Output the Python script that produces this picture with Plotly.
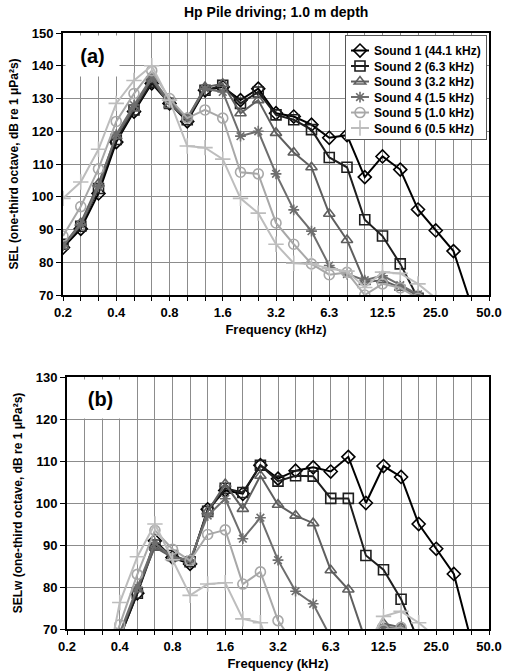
import plotly.graph_objects as go

# ---------------- data ----------------
band_labels = ["0.2", "0.25", "0.315", "0.4", "0.5", "0.63", "0.8", "1.0", "1.25", "1.6",
               "2.0", "2.5", "3.15", "4.0", "5.0", "6.3", "8.0", "10", "12.5", "16",
               "20", "25", "31.5", "40", "50"]
tick_text = {0: "0.2", 3: "0.4", 6: "0.8", 9: "1.6", 12: "3.2", 15: "6.3",
             18: "12.5", 21: "25.0", 24: "50.0"}
series_names = ["Sound 1 (44.1 kHz)", "Sound 2 (6.3 kHz)", "Sound 3 (3.2 kHz)",
                "Sound 4 (1.5 kHz)", "Sound 5 (1.0 kHz)", "Sound 6 (0.5 kHz)"]

N = None
# panel (a): SEL
sel_sound1 = [84.5, 90.2, 101, 116.7, 126, 134.6, 128.5, 123, 132.5, 133.5, 129.5, 133, 125.5,
              124.5, 122, 118, 118.8, 106, 112.3, 108.3, 96.1, 89.7, 83.4, 67, N]
sel_sound2 = [85.5, 91, 102.5, 117.5, 126.5, 135, 128.5, 123.5, 132.5, 134, 128.5, 132, 125,
              123.5, 120.5, 112, 109, 93, 88, 79.5, 69, N, N, N, N]
sel_sound3 = [85, 92, 104, 118.5, 127, 136, 128, 124, 133.5, 134.5, 125.5, 129.5, 119.5,
              113.5, 109, 94.8, 86.8, 74, 74.5, 72.2, 70, N, N, N, N]
sel_sound4 = [85, 91.5, 103, 119, 128, 136.5, 129, 124, 133, 132, 118.5, 120, 107,
              96, 89.5, 79, 76.4, 74.5, 75.9, 73, 70.2, N, N, N, N]
sel_sound5 = [88, 97, 108.5, 123, 131.5, 138.5, 130, 124, 126.5, 124, 107.5, 107, 92,
              85.5, 79.5, 76.2, 76.9, 70, 73.4, 72.2, 69, N, N, N, N]
sel_sound6 = [99.5, 104.5, 114.5, 128.5, 135.5, 140, 129.5, 115.5, 115, 111.5, 99.5, 95, 85.5,
              79.7, 79.5, 78, 77.3, 72.3, 77, 76.6, 73.4, 69, N, N, N]

# panel (b): SELw
selw_sound1 = [N, N, N, 68, 78.5, 91, 87, 85.5, 98.5, 103, 102.2, 109, 105.8,
               107.7, 108.5, 107.5, 111, 100, 108.8, 106.2, 95, 89.1, 83.1, 67, N]
selw_sound2 = [N, N, N, 68, 78.5, 90, 87.5, 86, 98, 103.5, 102.5, 109, 105.2,
               106.5, 106.4, 101.1, 101.1, 87.5, 84.1, 77.1, 67, N, N, N, N]
selw_sound3 = [N, N, N, 68.5, 79.5, 89.5, 87, 86, 98, 104.5, 98.6, 106.5, 99.6,
               97, 95.2, 84, 79.4, 67, 71.3, 70.4, 68, N, N, N, N]
selw_sound4 = [N, N, N, 69, 80, 90.5, 87, 86.5, 97, 101, 91.5, 96.5, 86.4,
               79, 76, 68, 66, 66, 70.5, 70.2, 68, N, N, N, N]
selw_sound5 = [N, N, 60, 71, 83, 93.5, 89, 86.3, 92.5, 93.6, 80.7, 83.6, 72,
               66, N, N, N, 66, 69.8, 70.4, 68, N, N, N, N]
selw_sound6 = [N, N, 55, 76.3, 87.2, 95, 86.5, 78, 80.7, 81, 72.4, 71.5, 60,
               N, N, N, N, 65.5, 73, 74.2, 71.5, 68, N, N, N]

sel_series = [sel_sound1, sel_sound2, sel_sound3, sel_sound4, sel_sound5, sel_sound6]
selw_series = [selw_sound1, selw_sound2, selw_sound3, selw_sound4, selw_sound5, selw_sound6]

# ---------------- styles ----------------
colors = ["#000000", "#1e1e1e", "#5f5f5f", "#6e6e6e", "#a8a8a8", "#bdbdbd"]
symbols = ["diamond-open", "square-open", "triangle-up-open", "asterisk-open",
           "circle-open", "cross-thin-open"]
sizes = [10, 10, 10, 9, 10, 11]

FONT = "Arial, 'Liberation Sans', sans-serif"
x_idx = list(range(len(band_labels)))

fig = go.Figure()
for k in range(6):
    for series, xa, ya, show in ((sel_series, "x", "y", True), (selw_series, "x2", "y2", False)):
        fig.add_trace(go.Scatter(
            x=x_idx, y=series[k], xaxis=xa, yaxis=ya, mode="lines+markers",
            name=series_names[k], showlegend=show,
            connectgaps=False,
            line=dict(color=colors[k], width=2),
            marker=dict(symbol=symbols[k], size=sizes[k], color=colors[k],
                        line=dict(color=colors[k], width=1.6)),
        ))

ticktext_all = [tick_text.get(i, "") for i in x_idx]
grid = "#8c8c8c"

def xaxis(domain, anchor):
    return dict(domain=domain, anchor=anchor, range=[0, 24], tickmode="array",
                tickvals=x_idx, ticktext=ticktext_all, ticks="outside", ticklen=4,
                tickcolor="black", tickwidth=1, showgrid=True, gridcolor=grid, gridwidth=1,
                showline=True, linecolor="black", linewidth=2, mirror=True, zeroline=False,
                tickfont=dict(family=FONT, size=13, color="black", weight="bold"),
                title=dict(text="Frequency (kHz)", standoff=6,
                           font=dict(family=FONT, size=13, color="black", weight="bold")),
                automargin=False)

def yaxis(domain, anchor, rng, title):
    return dict(domain=domain, anchor=anchor, range=rng, dtick=10, ticks="outside",
                ticklen=5, tickcolor="black", tickwidth=1, showgrid=True, gridcolor=grid,
                gridwidth=1, showline=True, linecolor="black", linewidth=2, mirror=True,
                zeroline=False,
                tickfont=dict(family=FONT, size=13, color="black", weight="bold"),
                title=dict(text=title, standoff=10,
                           font=dict(family=FONT, size=12, color="black", weight="bold")),
                automargin=False)

fig.update_layout(
    template="none",
    width=507, height=672,
    margin=dict(l=63, r=18, t=33, b=43),
    paper_bgcolor="white", plot_bgcolor="white",
    font=dict(family=FONT, color="black"),
    xaxis=xaxis([0, 1], "y"),
    yaxis=yaxis([0.5604, 1], "x", [70, 150], "SEL (one-third octave, dB re 1 μPa²s)"),
    xaxis2=xaxis([0.0094, 1], "y2"),
    yaxis2=yaxis([0, 0.4228], "x2", [70, 130], "SELw (one-third octave, dB re 1 μPa²s)"),
    legend=dict(x=0.9953, y=0.9966, xanchor="right", yanchor="top",
                bgcolor="white", bordercolor="#555555", borderwidth=1,
                font=dict(family=FONT, size=12, color="black", weight="bold"),
                itemwidth=30, tracegroupgap=0),
    showlegend=True,
    hovermode=False,
    annotations=[
        dict(text="Hp Pile driving; 1.0 m depth", xref="paper", yref="paper",
             x=0.5, y=1 + 21 / 596, xanchor="center", yanchor="middle", showarrow=False,
             font=dict(family=FONT, size=14, color="black", weight="bold")),
        dict(text="(a)", xref="x domain", yref="y domain", x=0, y=1, xanchor="left",
             yanchor="top", xshift=1.5, yshift=-1.5, width=53, height=40, bgcolor="white",
             borderpad=0, showarrow=False, align="center", valign="middle",
             font=dict(family=FONT, size=20, color="black", weight="bold")),
        dict(text="(b)", xref="x2 domain", yref="y2 domain", x=0, y=1, xanchor="left",
             yanchor="top", xshift=1.5, yshift=-1.5, width=61, height=38, bgcolor="white",
             borderpad=0, showarrow=False, align="center", valign="middle",
             font=dict(family=FONT, size=20, color="black", weight="bold")),
    ],
)

# page tweaks: no body margin; compact legend rows and shorter samples like the reference
post_js = """
document.body.style.margin='0';
document.body.style.overflow='hidden';
function parseT(t) {
  var m = /translate\\(\\s*([-\\d.e]+)[\\s,]+([-\\d.e]+)\\s*\\)/.exec(t || '');
  return m ? [parseFloat(m[1]), parseFloat(m[2])] : null;
}
try {
  var leg = document.querySelector('.js-plotly-plot .legend');
  var items = leg.querySelectorAll('g.traces');
  var step = 15.5, first = null, oldStep = null, cut = 12;
  items.forEach(function(el, i) {
    var p = parseT(el.getAttribute('transform'));
    if (!p) { return; }
    if (first === null) { first = p[1]; }
    else if (oldStep === null) { oldStep = p[1] - first; }
    el.setAttribute('transform', 'translate(' + p[0] + ',' + (first + i * step) + ')');
    el.querySelectorAll('.legendlines path').forEach(function(pa) {
      pa.setAttribute('d', 'M5,0h' + (30 - cut));
    });
    el.querySelectorAll('.legendpoints path').forEach(function(pt) {
      pt.setAttribute('transform', 'translate(' + (20 - cut / 2) + ',0)');
    });
    var tx = el.querySelector('text.legendtext');
    if (tx) { tx.setAttribute('x', parseFloat(tx.getAttribute('x')) - cut); }
  });
  var bg = leg.querySelector('rect.bg');
  if (oldStep !== null) {
    var h = parseFloat(bg.getAttribute('height'));
    bg.setAttribute('height', h - (oldStep - step) * items.length);
  }
  var w = parseFloat(bg.getAttribute('width'));
  bg.setAttribute('width', w - cut);
  var lp = parseT(leg.getAttribute('transform'));
  if (lp) { leg.setAttribute('transform', 'translate(' + (lp[0] + cut) + ',' + lp[1] + ')'); }
} catch (e) {}
"""

fig.write_html("out.html", config={"displayModeBar": False, "staticPlot": True},
               post_script=post_js)
